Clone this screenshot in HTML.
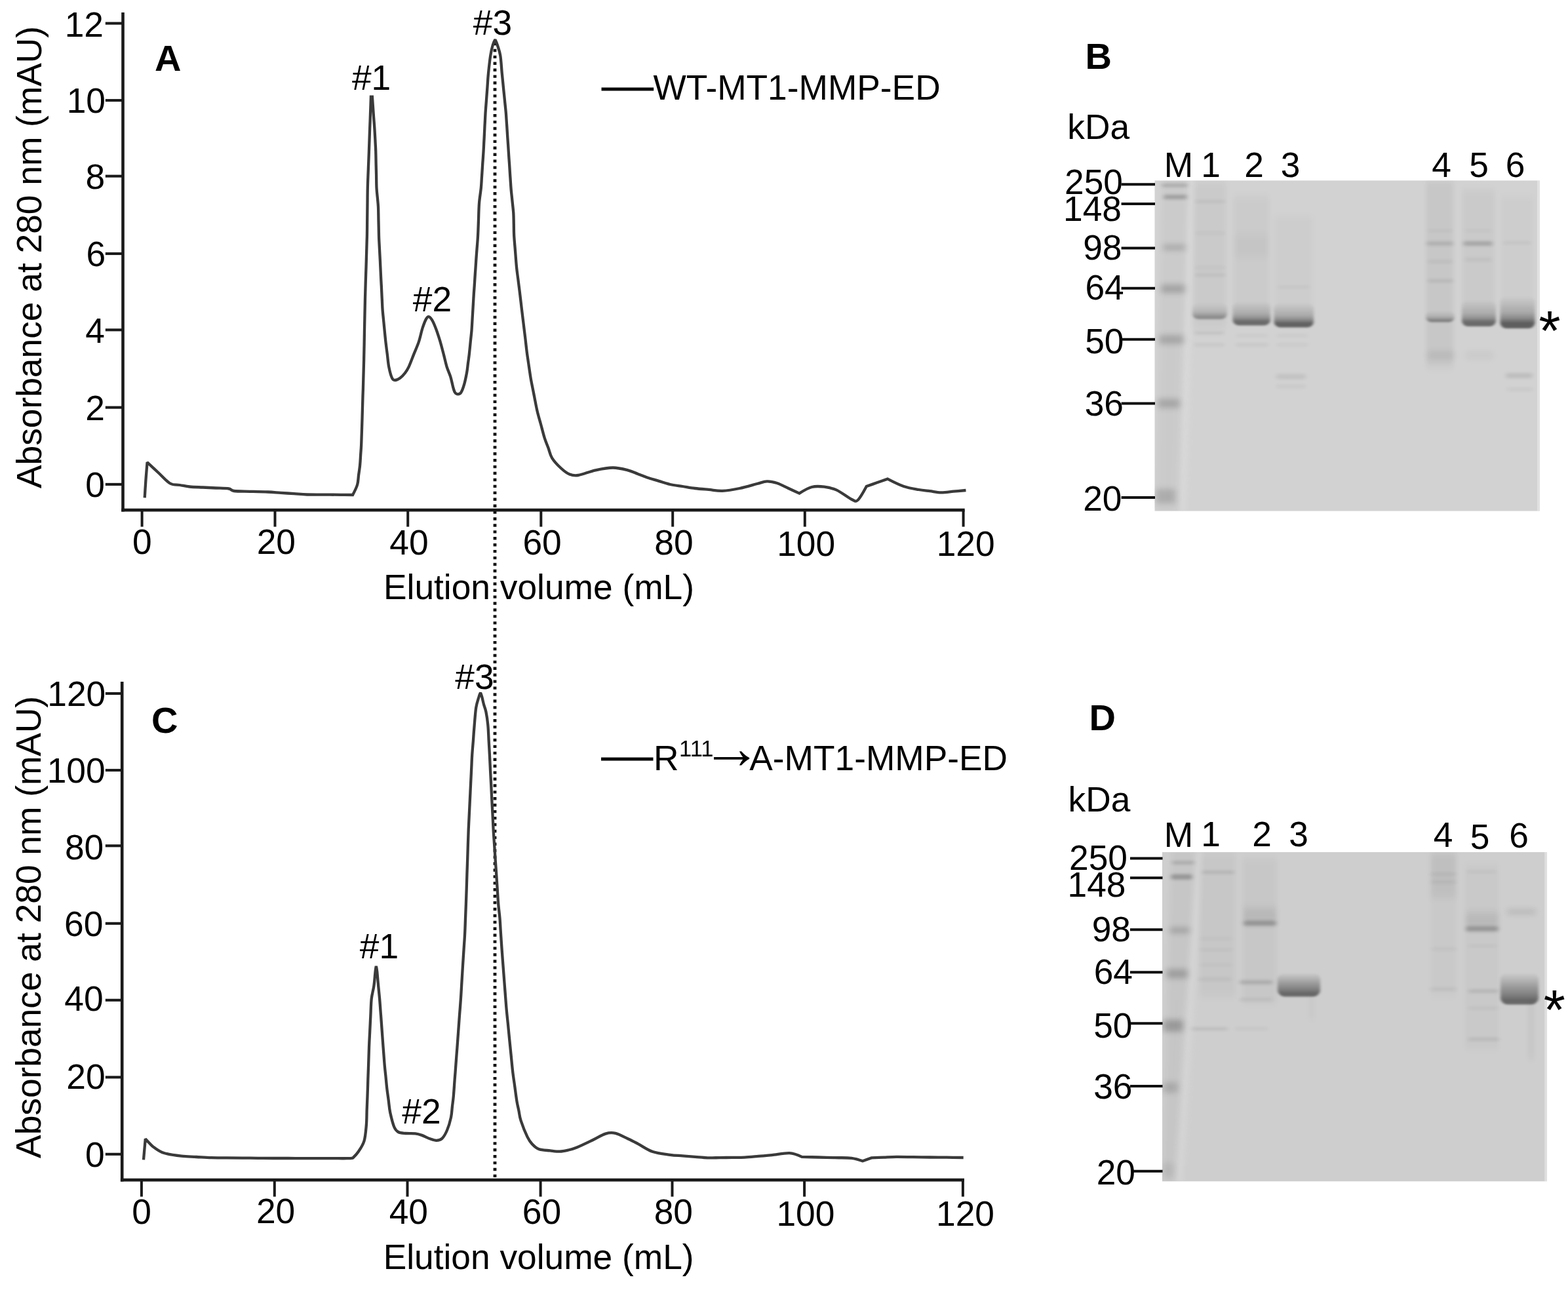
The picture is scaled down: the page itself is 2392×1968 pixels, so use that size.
<!DOCTYPE html>
<html lang="en"><head><meta charset="utf-8"><title>Size-exclusion chromatography of MT1-MMP-ED</title>
<style>html,body{margin:0;padding:0;background:#fff}body{width:2392px;height:1968px;overflow:hidden}svg{display:block}text{font-family:"Liberation Sans", "DejaVu Sans", sans-serif;fill:#000}</style>
</head><body>
<svg width="2392" height="1968" viewBox="0 0 2392 1968" role="img" aria-label="Size-exclusion chromatograms and SDS-PAGE gels of WT and R111A MT1-MMP-ED">
<rect width="2392" height="1968" fill="#fff"/>
<line x1="755" y1="64.8" x2="755" y2="1796" stroke="#111" stroke-width="4.8" stroke-dasharray="4.4 5.525"/>
<line x1="187.5" y1="19.0" x2="187.5" y2="780.4" stroke="#1a1a1a" stroke-width="4.6" />
<line x1="185.2" y1="778.1" x2="1471.7" y2="778.1" stroke="#1a1a1a" stroke-width="4.6" />
<line x1="160.8" y1="35.6" x2="187.5" y2="35.6" stroke="#1a1a1a" stroke-width="4.1" />
<text x="158.0" y="56.2" font-size="53.3" text-anchor="end">12</text>
<line x1="160.8" y1="153.1" x2="187.5" y2="153.1" stroke="#1a1a1a" stroke-width="4.1" />
<text x="161.0" y="172.1" font-size="53.3" text-anchor="end">10</text>
<line x1="160.8" y1="268.7" x2="187.5" y2="268.7" stroke="#1a1a1a" stroke-width="4.1" />
<text x="160.2" y="288.3" font-size="53.3" text-anchor="end">8</text>
<line x1="160.8" y1="387.0" x2="187.5" y2="387.0" stroke="#1a1a1a" stroke-width="4.1" />
<text x="161.2" y="406.2" font-size="53.3" text-anchor="end">6</text>
<line x1="160.8" y1="503.3" x2="187.5" y2="503.3" stroke="#1a1a1a" stroke-width="4.1" />
<text x="160.0" y="522.6" font-size="53.3" text-anchor="end">4</text>
<line x1="160.8" y1="621.6" x2="187.5" y2="621.6" stroke="#1a1a1a" stroke-width="4.1" />
<text x="159.8" y="640.6" font-size="53.3" text-anchor="end">2</text>
<line x1="160.8" y1="738.9" x2="187.5" y2="738.9" stroke="#1a1a1a" stroke-width="4.1" />
<text x="160.0" y="757.9" font-size="53.3" text-anchor="end">0</text>
<line x1="216.6" y1="778.1" x2="216.6" y2="803.6" stroke="#1a1a1a" stroke-width="4.0" />
<text x="216.9" y="845.3" font-size="53.3" text-anchor="middle">0</text>
<line x1="419.5" y1="778.1" x2="419.5" y2="803.6" stroke="#1a1a1a" stroke-width="4.0" />
<text x="421.3" y="845.3" font-size="53.3" text-anchor="middle">20</text>
<line x1="622.2" y1="778.1" x2="622.2" y2="803.6" stroke="#1a1a1a" stroke-width="4.0" />
<text x="624.0" y="845.7" font-size="53.3" text-anchor="middle">40</text>
<line x1="825.3" y1="778.1" x2="825.3" y2="803.6" stroke="#1a1a1a" stroke-width="4.0" />
<text x="827.1" y="845.7" font-size="53.3" text-anchor="middle">60</text>
<line x1="1026.2" y1="778.1" x2="1026.2" y2="803.6" stroke="#1a1a1a" stroke-width="4.0" />
<text x="1028.0" y="845.9" font-size="53.3" text-anchor="middle">80</text>
<line x1="1227.8" y1="778.1" x2="1227.8" y2="803.6" stroke="#1a1a1a" stroke-width="4.0" />
<text x="1229.6" y="848.2" font-size="53.3" text-anchor="middle">100</text>
<line x1="1469.6" y1="778.1" x2="1469.6" y2="803.6" stroke="#1a1a1a" stroke-width="4.0" />
<text x="1473.2" y="848.2" font-size="53.3" text-anchor="middle">120</text>
<text x="822.0" y="914.3" font-size="53.3" text-anchor="middle">Elution volume (mL)</text>
<text transform="translate(63,392.5) rotate(-90)" font-size="53.3" text-anchor="middle">Absorbance at 280 nm (mAU)</text>
<path d="M220.7,759.4C220.9,757.0 221.3,749.6 221.6,744.7C222.0,739.8 222.1,736.6 222.6,730.0C223.1,723.4 224.6,705.2 224.6,705.2C224.6,705.2 236.2,716.1 242.0,721.5C247.8,726.9 254.1,734.4 259.5,737.5C264.9,740.6 269.4,739.2 274.4,740.0C279.4,740.8 283.5,741.9 289.3,742.5C295.1,743.1 302.6,743.2 309.2,743.5C315.8,743.8 322.5,744.2 329.1,744.5C335.7,744.8 344.4,744.8 349.0,745.5C353.6,746.2 351.4,748.3 357.0,749.0C362.6,749.7 374.2,749.5 382.9,749.8C391.5,750.0 401.1,750.2 408.7,750.5C416.3,750.8 422.0,751.4 428.6,751.8C435.3,752.3 441.9,752.7 448.6,753.2C455.2,753.6 460.9,754.3 468.5,754.5C476.1,754.7 485.7,754.6 494.2,754.6C502.8,754.7 512.7,754.7 520.0,754.8C527.3,754.9 538.1,755.0 538.1,755.0C538.1,755.0 543.6,744.6 545.1,739.5C546.6,734.4 546.4,729.6 547.1,724.6C547.8,719.6 548.6,714.7 549.1,709.7C549.6,704.7 549.8,699.7 550.1,694.8C550.4,689.8 550.8,685.9 551.1,679.8C551.4,673.7 551.6,665.2 551.9,657.9C552.1,650.6 552.4,643.2 552.6,636.0C552.8,628.8 553.0,621.7 553.2,614.5C553.4,607.3 553.6,600.2 553.9,593.0C554.1,585.8 554.3,578.7 554.5,571.5C554.7,564.3 554.9,557.5 555.1,550.0C555.3,542.5 555.4,534.2 555.6,526.2C555.7,518.3 555.9,510.4 556.0,502.5C556.2,494.6 556.4,486.7 556.5,478.8C556.7,470.8 556.8,462.9 557.0,455.0C557.2,447.1 557.5,439.2 557.7,431.2C558.0,423.3 558.2,415.4 558.5,407.5C558.7,399.6 558.9,391.7 559.2,383.8C559.4,375.8 559.7,368.0 559.9,360.0C560.1,352.0 560.1,343.8 560.2,335.7C560.3,327.6 560.4,319.4 560.5,311.3C560.6,303.2 560.6,295.3 560.8,287.0C561.0,278.7 561.4,270.1 561.7,261.7C562.0,253.2 562.4,244.8 562.7,236.3C563.0,227.9 563.3,218.8 563.6,211.0C563.9,203.2 564.1,196.7 564.4,189.5C564.7,182.3 565.0,175.0 565.2,168.0C565.5,161.0 565.9,147.6 565.9,147.6L567.9,147.6C567.9,147.6 568.9,162.1 569.3,168.0C569.7,173.9 570.0,178.0 570.4,183.0C570.8,188.0 571.2,192.8 571.5,198.0C571.8,203.2 572.1,208.7 572.4,214.0C572.6,219.3 573.0,224.2 573.2,230.0C573.4,235.8 573.5,242.7 573.6,249.0C573.8,255.3 573.9,261.7 574.1,268.0C574.2,274.3 574.2,281.4 574.5,287.0C574.8,292.6 575.3,296.6 575.8,301.4C576.2,306.1 576.7,309.6 577.0,315.7C577.3,321.8 577.3,330.5 577.5,337.9C577.7,345.2 577.8,353.1 578.0,360.0C578.2,366.9 578.6,372.7 578.9,379.0C579.2,385.3 579.6,391.7 579.9,398.0C580.2,404.3 580.5,410.7 580.8,417.0C581.1,423.3 581.4,429.7 581.8,436.0C582.1,442.3 582.4,448.7 582.7,455.0C583.1,461.3 583.1,466.9 583.7,474.0C584.3,481.1 585.3,489.9 586.0,497.8C586.8,505.7 587.6,514.5 588.4,521.6C589.2,528.7 590.0,534.3 590.8,540.6C591.6,546.9 592.0,553.6 593.2,559.6C594.4,565.6 596.4,573.3 598.0,576.7C599.6,580.1 600.7,580.0 602.7,580.0C604.8,580.0 607.8,578.5 610.3,576.7C612.8,574.9 615.7,571.9 617.9,569.0C620.1,566.1 621.4,564.3 623.6,559.6C625.8,554.9 628.7,546.9 631.2,540.6C633.7,534.3 636.6,528.2 638.8,521.6C641.0,515.0 642.6,506.6 644.5,500.7C646.4,494.8 648.6,489.3 650.2,486.4C651.9,483.5 652.8,482.7 654.4,483.2C656.0,483.7 657.9,486.1 659.7,489.3C661.5,492.5 663.5,497.5 665.4,502.6C667.3,507.7 669.2,513.4 671.1,519.7C673.0,526.0 675.0,534.0 676.8,540.6C678.5,547.2 679.9,553.9 681.6,559.6C683.4,565.3 685.7,569.7 687.3,574.8C688.9,579.9 689.9,586.0 691.0,590.0C692.1,594.0 692.7,596.7 694.0,598.6C695.3,600.5 697.1,601.4 698.7,601.4C700.3,601.4 701.8,601.1 703.4,598.6C705.0,596.1 706.8,591.1 708.2,586.2C709.6,581.3 711.0,574.2 712.0,569.0C713.0,563.8 713.3,559.5 713.9,554.8C714.5,550.1 715.2,546.1 715.8,540.6C716.4,535.1 717.1,527.9 717.7,521.6C718.3,515.3 719.1,509.7 719.6,502.6C720.1,495.5 720.5,486.7 721.0,478.8C721.5,470.9 722.0,462.1 722.4,455.0C722.8,447.9 723.2,442.3 723.7,436.0C724.1,429.7 724.5,423.3 724.9,417.0C725.4,410.7 725.8,404.3 726.2,398.0C726.6,391.7 727.1,385.3 727.6,379.0C728.1,372.7 728.6,367.3 729.0,360.0C729.4,352.7 729.7,343.3 730.0,335.0C730.3,326.7 730.4,318.0 731.0,310.0C731.6,302.0 733.1,294.0 733.8,287.0C734.5,280.0 734.6,274.3 735.1,268.0C735.5,261.7 735.9,255.3 736.3,249.0C736.8,242.7 737.2,236.3 737.6,230.0C738.0,223.7 738.2,217.3 738.6,211.0C738.9,204.7 739.2,198.3 739.5,192.0C739.9,185.7 740.1,179.6 740.5,173.0C740.9,166.4 741.5,159.4 742.0,152.7C742.5,145.9 743.0,139.1 743.5,132.3C744.0,125.6 744.2,119.9 745.0,112.0C745.8,104.1 747.1,92.2 748.2,85.0C749.3,77.8 750.6,72.6 751.8,68.5C753.0,64.4 755.4,60.5 755.4,60.5C755.4,60.5 757.4,64.4 758.7,68.5C760.0,72.6 762.1,77.8 763.3,85.0C764.5,92.2 765.0,104.1 765.8,112.0C766.6,119.9 767.2,125.6 767.8,132.3C768.5,139.1 769.2,145.9 769.9,152.7C770.5,159.4 771.4,166.4 771.9,173.0C772.4,179.6 772.7,185.7 773.2,192.0C773.6,198.3 774.0,204.7 774.4,211.0C774.9,217.3 775.3,223.7 775.7,230.0C776.1,236.3 776.5,242.7 777.0,249.0C777.4,255.3 777.8,261.7 778.2,268.0C778.7,274.3 779.0,280.7 779.5,287.0C780.0,293.3 780.8,299.7 781.4,306.0C782.0,312.3 782.9,318.9 783.3,325.0C783.7,331.1 783.6,336.7 783.8,342.5C783.9,348.3 783.8,353.1 784.2,360.0C784.6,366.9 785.5,375.8 786.1,383.8C786.7,391.7 787.3,400.4 788.0,407.5C788.7,414.6 789.6,420.2 790.4,426.6C791.2,432.9 791.9,438.5 792.8,445.6C793.7,452.7 794.7,461.4 795.6,469.3C796.6,477.2 797.5,485.1 798.5,493.0C799.5,500.9 800.4,508.9 801.4,516.8C802.3,524.7 803.2,533.5 804.2,540.6C805.2,547.7 806.1,553.3 807.0,559.6C808.0,565.9 808.6,571.4 809.9,578.6C811.2,585.8 813.1,594.6 814.6,602.5C816.2,610.5 817.7,619.0 819.4,626.5C821.1,634.0 823.2,640.5 825.1,647.5C827.0,654.4 828.9,662.4 830.8,668.4C832.7,674.4 834.6,678.5 836.5,683.6C838.4,688.7 839.0,693.7 842.2,698.8C845.4,703.9 851.1,709.9 855.5,714.0C859.9,718.1 864.4,721.7 868.8,723.5C873.2,725.3 875.5,726.0 882.1,725.0C888.7,724.0 899.7,719.2 908.5,717.3C917.3,715.4 926.8,713.5 935.0,713.5C943.2,713.5 951.5,715.7 957.8,717.3C964.1,718.9 967.9,721.1 972.9,723.0C977.9,724.9 982.6,726.9 988.0,728.7C993.4,730.5 999.4,732.1 1005.1,733.9C1010.9,735.6 1016.3,737.6 1022.3,739.0C1028.3,740.4 1034.9,741.0 1041.2,742.0C1047.6,743.0 1053.6,744.2 1060.2,745.0C1066.8,745.8 1074.1,746.3 1081.1,746.9C1088.1,747.5 1094.1,749.1 1102.0,748.8C1109.9,748.5 1119.6,746.8 1128.4,745.0C1137.2,743.2 1148.1,739.8 1155.0,738.0C1161.9,736.2 1165.0,734.6 1170.0,734.4C1175.0,734.2 1179.9,735.3 1185.3,737.0C1190.7,738.7 1196.7,742.2 1202.3,744.8C1208.0,747.4 1219.4,752.6 1219.4,752.6C1219.4,752.6 1232.1,744.6 1238.4,743.0C1244.7,741.4 1251.0,741.9 1257.3,742.7C1263.6,743.5 1269.3,744.4 1276.3,747.6C1283.2,750.8 1293.6,759.1 1299.0,761.7C1304.4,764.3 1304.7,766.3 1308.5,763.0C1312.3,759.7 1321.8,742.0 1321.8,742.0C1321.8,742.0 1332.5,738.2 1337.9,736.3C1343.3,734.4 1354.0,730.6 1354.0,730.6C1354.0,730.6 1370.8,739.3 1378.7,742.0C1386.6,744.7 1394.8,745.8 1401.4,747.0C1408.0,748.2 1412.8,748.5 1418.5,749.2C1424.1,749.9 1429.5,751.3 1435.5,751.4C1441.5,751.5 1448.2,750.3 1454.5,749.7C1460.8,749.1 1470.3,748.3 1473.5,748.0" fill="none" stroke="#3a3a3a" stroke-width="4.3" stroke-linejoin="miter" stroke-miterlimit="2" stroke-linecap="butt"/>
<text x="236.0" y="108.0" font-size="56.0" text-anchor="start" font-weight="bold">A</text>
<text x="566.6" y="137.0" font-size="53.3" text-anchor="middle">#1</text>
<text x="659.5" y="475.3" font-size="53.3" text-anchor="middle">#2</text>
<text x="751.5" y="53.3" font-size="53.3" text-anchor="middle">#3</text>
<line x1="186.2" y1="1040.0" x2="186.2" y2="1802.4" stroke="#1a1a1a" stroke-width="4.6" />
<line x1="183.9" y1="1800.1" x2="1471.0" y2="1800.1" stroke="#1a1a1a" stroke-width="4.6" />
<line x1="160.8" y1="1058.0" x2="186.2" y2="1058.0" stroke="#1a1a1a" stroke-width="4.1" />
<text x="161.2" y="1076.8" font-size="53.3" text-anchor="end">120</text>
<line x1="160.8" y1="1175.0" x2="186.2" y2="1175.0" stroke="#1a1a1a" stroke-width="4.1" />
<text x="160.6" y="1194.3" font-size="53.3" text-anchor="end">100</text>
<line x1="160.8" y1="1290.3" x2="186.2" y2="1290.3" stroke="#1a1a1a" stroke-width="4.1" />
<text x="158.2" y="1311.1" font-size="53.3" text-anchor="end">80</text>
<line x1="160.8" y1="1408.8" x2="186.2" y2="1408.8" stroke="#1a1a1a" stroke-width="4.1" />
<text x="157.4" y="1428.1" font-size="53.3" text-anchor="end">60</text>
<line x1="160.8" y1="1525.8" x2="186.2" y2="1525.8" stroke="#1a1a1a" stroke-width="4.1" />
<text x="157.6" y="1542.4" font-size="53.3" text-anchor="end">40</text>
<line x1="160.8" y1="1643.4" x2="186.2" y2="1643.4" stroke="#1a1a1a" stroke-width="4.1" />
<text x="160.6" y="1661.2" font-size="53.3" text-anchor="end">20</text>
<line x1="160.8" y1="1760.8" x2="186.2" y2="1760.8" stroke="#1a1a1a" stroke-width="4.1" />
<text x="159.6" y="1780.1" font-size="53.3" text-anchor="end">0</text>
<line x1="215.9" y1="1800.1" x2="215.9" y2="1825.6" stroke="#1a1a1a" stroke-width="4.0" />
<text x="216.2" y="1867.2" font-size="53.3" text-anchor="middle">0</text>
<line x1="418.8" y1="1800.1" x2="418.8" y2="1825.6" stroke="#1a1a1a" stroke-width="4.0" />
<text x="420.6" y="1866.2" font-size="53.3" text-anchor="middle">20</text>
<line x1="621.5" y1="1800.1" x2="621.5" y2="1825.6" stroke="#1a1a1a" stroke-width="4.0" />
<text x="623.3" y="1866.7" font-size="53.3" text-anchor="middle">40</text>
<line x1="824.6" y1="1800.1" x2="824.6" y2="1825.6" stroke="#1a1a1a" stroke-width="4.0" />
<text x="826.4" y="1866.7" font-size="53.3" text-anchor="middle">60</text>
<line x1="1025.5" y1="1800.1" x2="1025.5" y2="1825.6" stroke="#1a1a1a" stroke-width="4.0" />
<text x="1027.3" y="1867.2" font-size="53.3" text-anchor="middle">80</text>
<line x1="1227.1" y1="1800.1" x2="1227.1" y2="1825.6" stroke="#1a1a1a" stroke-width="4.0" />
<text x="1228.9" y="1869.7" font-size="53.3" text-anchor="middle">100</text>
<line x1="1468.9" y1="1800.1" x2="1468.9" y2="1825.6" stroke="#1a1a1a" stroke-width="4.0" />
<text x="1472.5" y="1870.2" font-size="53.3" text-anchor="middle">120</text>
<text x="821.6" y="1936.3" font-size="53.3" text-anchor="middle">Elution volume (mL)</text>
<text transform="translate(62.4,1414.4) rotate(-90)" font-size="53.3" text-anchor="middle">Absorbance at 280 nm (mAU)</text>
<path d="M219.0,1769.4C219.2,1766.5 220.0,1757.3 220.5,1752.0C221.0,1746.7 221.8,1737.5 221.8,1737.5C221.8,1737.5 225.8,1741.8 228.0,1744.0C230.2,1746.2 231.3,1748.0 235.0,1750.5C238.7,1753.0 243.2,1756.8 250.2,1759.0C257.2,1761.2 268.6,1762.7 276.8,1763.7C285.0,1764.7 292.0,1764.5 299.6,1765.0C307.1,1765.4 314.6,1766.0 322.3,1766.2C330.0,1766.4 338.1,1766.3 346.0,1766.4C353.9,1766.5 361.8,1766.5 369.6,1766.6C377.5,1766.7 385.4,1766.7 393.3,1766.8C401.2,1766.9 409.3,1767.0 417.0,1767.0C424.7,1767.0 432.1,1767.0 439.6,1767.0C447.1,1767.1 454.7,1767.1 462.2,1767.1C469.7,1767.1 477.3,1767.1 484.8,1767.1C492.3,1767.1 499.9,1767.1 507.4,1767.2C514.9,1767.2 524.9,1767.3 530.0,1767.2C535.1,1767.1 538.2,1766.6 538.2,1766.6C538.2,1766.6 544.0,1761.0 546.9,1756.7C549.8,1752.4 553.5,1747.2 555.5,1740.6C557.5,1734.0 558.1,1724.7 558.8,1717.0C559.5,1709.3 559.4,1702.1 559.6,1694.7C559.9,1687.3 560.2,1680.2 560.5,1672.4C560.8,1664.6 561.1,1655.9 561.3,1647.6C561.6,1639.3 561.9,1631.1 562.2,1622.8C562.4,1614.5 562.7,1606.2 563.0,1598.0C563.3,1589.8 563.8,1581.5 564.2,1573.3C564.6,1565.1 565.0,1556.8 565.4,1548.6C565.8,1540.3 565.9,1531.2 566.7,1523.8C567.5,1516.4 569.4,1511.0 570.4,1504.0C571.4,1497.0 572.0,1487.0 572.6,1482.0C573.2,1477.0 573.8,1474.0 573.8,1474.0C573.8,1474.0 574.7,1477.7 575.2,1482.0C575.7,1486.3 576.1,1493.0 576.8,1500.0C577.4,1507.0 578.4,1515.7 579.1,1523.8C579.8,1531.9 580.3,1540.3 581.0,1548.6C581.6,1556.9 582.2,1565.1 582.8,1573.4C583.4,1581.7 584.0,1589.9 584.6,1598.2C585.3,1606.4 585.9,1615.7 586.5,1622.9C587.1,1630.1 587.7,1635.3 588.4,1641.5C589.0,1647.6 589.5,1653.8 590.2,1660.0C590.9,1666.2 591.9,1672.4 592.7,1678.6C593.5,1684.8 593.8,1690.4 595.2,1697.2C596.7,1704.0 599.3,1714.5 601.4,1719.5C603.5,1724.5 604.7,1725.4 607.6,1727.0C610.5,1728.6 614.4,1728.6 618.7,1729.0C623.0,1729.4 629.5,1728.9 633.6,1729.4C637.7,1729.9 639.8,1730.6 643.5,1731.9C647.2,1733.2 652.2,1736.0 655.9,1737.3C659.6,1738.6 662.7,1739.9 665.8,1739.8C668.9,1739.7 671.7,1739.3 674.4,1736.8C677.1,1734.2 679.6,1729.9 681.9,1724.5C684.2,1719.1 686.7,1710.6 688.0,1704.6C689.3,1698.6 689.3,1693.9 689.9,1688.5C690.5,1683.1 691.2,1679.2 691.8,1672.4C692.4,1665.6 693.0,1655.9 693.6,1647.7C694.3,1639.4 694.9,1631.2 695.5,1622.9C696.1,1614.7 696.7,1606.4 697.4,1598.2C698.0,1589.9 698.6,1581.7 699.2,1573.4C699.8,1565.1 700.4,1556.9 701.0,1548.6C701.7,1540.3 702.3,1532.1 702.9,1523.8C703.5,1515.5 703.9,1507.3 704.4,1499.0C704.9,1490.8 705.4,1482.5 705.9,1474.3C706.4,1466.0 707.0,1457.8 707.5,1449.5C708.0,1441.3 708.7,1432.7 709.1,1424.8C709.5,1416.9 709.7,1409.5 710.0,1401.9C710.3,1394.3 710.6,1386.6 710.9,1379.0C711.2,1371.4 711.4,1363.9 711.7,1356.3C711.9,1348.7 712.2,1341.1 712.4,1333.6C712.7,1326.0 712.9,1318.4 713.2,1310.8C713.4,1303.3 713.7,1295.7 713.9,1288.1C714.2,1280.5 714.4,1273.0 714.7,1265.4C715.0,1257.8 715.4,1250.2 715.8,1242.7C716.2,1235.1 716.5,1227.5 716.9,1219.9C717.3,1212.3 717.6,1204.8 718.0,1197.2C718.4,1189.6 718.7,1182.0 719.1,1174.4C719.5,1166.9 719.7,1159.3 720.2,1151.7C720.7,1144.1 721.4,1136.5 722.0,1128.8C722.5,1121.2 723.0,1114.2 723.7,1106.0C724.4,1097.8 725.1,1086.8 726.2,1079.6C727.4,1072.4 729.5,1066.8 730.6,1063.0C731.7,1059.2 733.0,1056.8 733.0,1056.8C733.0,1056.8 734.4,1060.1 735.2,1063.0C736.0,1065.9 736.9,1070.5 737.9,1074.3C738.9,1078.1 740.3,1080.7 741.4,1086.0C742.5,1091.3 743.6,1098.9 744.3,1106.0C745.0,1113.1 745.2,1121.2 745.6,1128.8C746.0,1136.5 746.5,1144.1 746.9,1151.7C747.3,1159.3 747.7,1166.9 748.0,1174.4C748.4,1182.0 748.8,1189.6 749.2,1197.2C749.6,1204.8 749.9,1212.3 750.3,1219.9C750.7,1227.5 751.1,1235.1 751.5,1242.7C751.8,1250.2 752.2,1257.8 752.6,1265.4C753.0,1273.0 753.6,1280.5 754.1,1288.1C754.6,1295.7 755.1,1303.3 755.6,1310.8C756.1,1318.4 756.7,1326.0 757.2,1333.6C757.7,1341.1 758.2,1348.7 758.7,1356.3C759.2,1363.9 759.6,1371.7 760.2,1379.0C760.8,1386.3 761.8,1393.4 762.4,1400.0C763.0,1406.6 763.2,1412.3 763.6,1418.5C764.0,1424.7 764.3,1429.8 764.8,1437.0C765.3,1444.2 766.0,1453.6 766.6,1461.8C767.3,1470.1 767.9,1478.4 768.5,1486.7C769.1,1495.0 769.8,1503.2 770.4,1511.5C771.0,1519.7 771.6,1527.9 772.3,1536.2C773.0,1544.5 773.9,1552.7 774.8,1561.0C775.6,1569.3 776.4,1577.5 777.2,1585.8C778.0,1594.1 778.9,1602.3 779.7,1610.5C780.5,1618.8 781.3,1627.5 782.2,1635.3C783.1,1643.1 784.3,1650.2 785.3,1657.6C786.3,1665.0 787.4,1673.7 788.4,1679.9C789.4,1686.1 790.5,1689.8 791.5,1694.8C792.5,1699.7 792.4,1703.0 794.6,1709.6C796.8,1716.2 801.6,1728.4 804.5,1734.4C807.4,1740.4 809.0,1742.4 811.9,1745.5C814.8,1748.6 817.3,1751.3 821.8,1753.0C826.3,1754.7 833.7,1754.8 839.1,1755.4C844.5,1756.0 849.5,1756.8 854.0,1756.7C858.5,1756.6 862.1,1755.7 866.4,1754.7C870.7,1753.7 873.6,1753.1 880.0,1750.5C886.4,1747.9 897.4,1742.5 904.7,1739.0C912.0,1735.5 918.0,1731.3 923.7,1729.6C929.4,1727.9 933.2,1727.6 938.9,1728.9C944.6,1730.2 952.1,1734.6 957.8,1737.2C963.5,1739.8 966.7,1741.5 973.0,1744.8C979.3,1748.1 987.5,1754.2 995.7,1757.0C1003.9,1759.8 1014.7,1760.7 1022.3,1761.8C1029.9,1762.9 1034.9,1762.8 1041.3,1763.3C1047.6,1763.8 1053.9,1764.4 1060.2,1764.9C1066.6,1765.4 1072.9,1766.2 1079.2,1766.4C1085.5,1766.6 1091.8,1766.2 1098.1,1766.1C1104.4,1766.0 1110.8,1766.0 1117.1,1765.9C1123.4,1765.8 1129.4,1765.9 1136.0,1765.6C1142.6,1765.3 1149.9,1764.5 1156.8,1763.9C1163.8,1763.3 1169.8,1763.0 1177.7,1762.2C1185.6,1761.4 1196.7,1758.8 1204.3,1759.2C1211.9,1759.7 1223.2,1764.9 1223.2,1764.9C1223.2,1764.9 1240.0,1765.3 1248.5,1765.5C1256.9,1765.7 1265.3,1766.0 1273.7,1766.2C1282.2,1766.4 1292.0,1765.9 1299.0,1766.8C1306.0,1767.7 1316.0,1771.3 1316.0,1771.3L1329.4,1766.4C1329.4,1766.4 1342.0,1765.9 1348.3,1765.7C1354.7,1765.4 1359.9,1765.0 1367.3,1764.9C1374.7,1764.8 1384.4,1765.1 1392.9,1765.2C1401.4,1765.3 1410.0,1765.4 1418.5,1765.5C1427.0,1765.5 1435.6,1765.6 1444.1,1765.7C1452.6,1765.8 1465.4,1766.0 1469.7,1766.0" fill="none" stroke="#3a3a3a" stroke-width="4.3" stroke-linejoin="miter" stroke-miterlimit="2" stroke-linecap="butt"/>
<text x="231.0" y="1118.0" font-size="56.0" text-anchor="start" font-weight="bold">C</text>
<text x="578.5" y="1462.3" font-size="53.3" text-anchor="middle">#1</text>
<text x="643.0" y="1714.0" font-size="53.3" text-anchor="middle">#2</text>
<text x="724.0" y="1051.0" font-size="53.3" text-anchor="middle">#3</text>
<line x1="917.5" y1="135.9" x2="997.2" y2="135.9" stroke="#0a0a0a" stroke-width="5.0" />
<text x="996.5" y="152.3" font-size="53.3" text-anchor="start">WT-MT1-MMP-ED</text>
<line x1="917.0" y1="1158.0" x2="996.5" y2="1158.0" stroke="#0a0a0a" stroke-width="5.0" />
<text x="997" y="1175" font-size="53.3">R<tspan font-size="34.5" dy="-21" dx="0.5">111</tspan><tspan x="1070.2" y="1171.5" font-size="91.5">→</tspan><tspan x="1143.3" y="1175" font-size="53.3">A-MT1-MMP-ED</tspan></text>
<defs><filter id="bs" x="-20%" y="-200%" width="140%" height="500%"><feGaussianBlur stdDeviation="3 2.2"/></filter><filter id="bm" x="-30%" y="-200%" width="160%" height="500%"><feGaussianBlur stdDeviation="5 4.5"/></filter><filter id="bl" x="-30%" y="-30%" width="160%" height="160%"><feGaussianBlur stdDeviation="3.5 6"/></filter><filter id="bx" x="-30%" y="-10%" width="160%" height="120%"><feGaussianBlur stdDeviation="5 2"/></filter><filter id="bg" x="-20%" y="-50%" width="140%" height="200%"><feGaussianBlur stdDeviation="2.2 1.6"/></filter><linearGradient id="mg" x1="0" y1="0" x2="0" y2="1"><stop offset="0" stop-color="#000" stop-opacity="0"/><stop offset="0.25" stop-color="#000" stop-opacity="0.09"/><stop offset="0.5" stop-color="#000" stop-opacity="0.19"/><stop offset="0.68" stop-color="#000" stop-opacity="0.36"/><stop offset="0.84" stop-color="#000" stop-opacity="0.60"/><stop offset="1" stop-color="#000" stop-opacity="0.58"/></linearGradient><linearGradient id="mg2" x1="0" y1="0" x2="0" y2="1"><stop offset="0" stop-color="#000" stop-opacity="0"/><stop offset="0.2" stop-color="#000" stop-opacity="0.13"/><stop offset="0.45" stop-color="#000" stop-opacity="0.30"/><stop offset="0.7" stop-color="#000" stop-opacity="0.46"/><stop offset="0.86" stop-color="#000" stop-opacity="0.60"/><stop offset="1" stop-color="#000" stop-opacity="0.58"/></linearGradient></defs>
<clipPath id="clipb"><rect x="1761.3" y="275.2" width="587.7" height="504.6"/></clipPath>
<g clip-path="url(#clipb)">
<rect x="1761.3" y="275.2" width="587.7" height="504.6" fill="#d2d2d2"/>
<rect x="2345.0" y="275.2" width="4" height="504.6" fill="#fff" opacity="0.35"/>
<polygon points="1773,275 1811,275 1797,780 1764,780" fill="#000" opacity="0.03" filter="url(#bx)"/>
<polygon points="1814,275 1823,275 1809,780 1800,780" fill="#fff" opacity="0.16" filter="url(#bx)"/>
<g filter="url(#bl)" fill="#000">
<rect x="1821" y="278" width="49" height="222" opacity="0.035"/>
<rect x="1882" y="300" width="54" height="180" opacity="0.03"/>
<rect x="1944" y="330" width="58" height="150" opacity="0.02"/>
<rect x="2176" y="276" width="41" height="284" opacity="0.05"/>
<rect x="2231" y="290" width="49" height="190" opacity="0.035"/>
<rect x="2290" y="300" width="49" height="180" opacity="0.02"/>
<rect x="1884" y="358" width="50" height="34" opacity="0.03"/>
</g>
<g filter="url(#bg)">
<rect x="1819" y="462" width="53" height="25" rx="9" fill="url(#mg)" opacity="0.500"/>
<rect x="1880.5" y="460" width="57.5" height="36.5" rx="9" fill="url(#mg)" opacity="0.833"/>
<rect x="1943.5" y="462" width="60.5" height="37.5" rx="9" fill="url(#mg)" opacity="0.900"/>
<rect x="2175" y="474" width="44" height="17.5" rx="9" fill="url(#mg)" opacity="0.600"/>
<rect x="2230" y="458" width="52" height="40" rx="9" fill="url(#mg)" opacity="0.833"/>
<rect x="2288.5" y="452" width="53.0" height="49" rx="9" fill="url(#mg)" opacity="0.933"/>
</g>
<g filter="url(#bs)" fill="#000">
<rect x="1772" y="280.2" width="40" height="5" rx="2.5" opacity="0.16"/>
<rect x="1775" y="297.0" width="36" height="7" rx="3.5" opacity="0.208"/>
<rect x="1823" y="305.5" width="46" height="4" rx="2.0" opacity="0.058"/>
<rect x="1823" y="353.8" width="46" height="4" rx="2.0" opacity="0.036"/>
<rect x="1823" y="406.6" width="46" height="4" rx="2.0" opacity="0.036"/>
<rect x="1823" y="417.5" width="46" height="4" rx="2.0" opacity="0.065"/>
<rect x="1822" y="505.5" width="45" height="5" rx="2.5" opacity="0.072"/>
<rect x="1822" y="523.5" width="45" height="5" rx="2.5" opacity="0.05"/>
<rect x="1886" y="523.5" width="48" height="5" rx="2.5" opacity="0.05"/>
<rect x="1886" y="510.0" width="48" height="4" rx="2.0" opacity="0.036"/>
<rect x="1950" y="436.0" width="48" height="4" rx="2.0" opacity="0.036"/>
<rect x="1947" y="570.5" width="45" height="8" rx="4.0" opacity="0.072"/>
<rect x="1947" y="587.0" width="45" height="5" rx="2.5" opacity="0.043"/>
<rect x="1948" y="523.5" width="47" height="5" rx="2.5" opacity="0.036"/>
<rect x="1948" y="510.0" width="47" height="4" rx="2.0" opacity="0.036"/>
<rect x="2176" y="368.5" width="41" height="6" rx="3.0" opacity="0.122"/>
<rect x="2178" y="396.5" width="38" height="5" rx="2.5" opacity="0.05"/>
<rect x="2178" y="426.0" width="39" height="5" rx="2.5" opacity="0.079"/>
<rect x="2178" y="350.0" width="38" height="4" rx="2.0" opacity="0.036"/>
<rect x="2232" y="368.0" width="45" height="7" rx="3.5" opacity="0.173"/>
<rect x="2234" y="393.0" width="42" height="6" rx="3.0" opacity="0.043"/>
<rect x="2234" y="350.0" width="42" height="4" rx="2.0" opacity="0.029"/>
<rect x="2293" y="368.5" width="42" height="4" rx="2.0" opacity="0.05"/>
<rect x="2297" y="569.0" width="41" height="8" rx="4.0" opacity="0.094"/>
<rect x="2299" y="591.5" width="39" height="5" rx="2.5" opacity="0.043"/>
</g>
<g filter="url(#bm)" fill="#000">
<rect x="1774" y="373.5" width="35" height="8" rx="4.0" opacity="0.176"/>
<rect x="1771" y="434.0" width="37" height="13" rx="4.0" opacity="0.192"/>
<rect x="1768" y="511.0" width="38" height="14" rx="4.0" opacity="0.176"/>
<rect x="1766" y="608.6" width="34" height="14" rx="4.0" opacity="0.176"/>
<rect x="1763" y="746.0" width="30" height="22" rx="4.0" opacity="0.144"/>
<rect x="2178" y="535.5" width="40" height="13" rx="4.0" opacity="0.065"/>
<rect x="2236" y="536.0" width="42" height="12" rx="4.0" opacity="0.036"/>
</g>
</g>
<clipPath id="clipd"><rect x="1773.0" y="1300.0" width="587.2" height="502.5"/></clipPath>
<g clip-path="url(#clipd)">
<rect x="1773.0" y="1300.0" width="587.2" height="502.5" fill="#cecece"/>
<rect x="2356.2" y="1300.0" width="4" height="502.5" fill="#fff" opacity="0.35"/>
<polygon points="1787,1300 1823,1300 1792,1803 1774,1803" fill="#000" opacity="0.035" filter="url(#bx)"/>
<polygon points="1826,1300 1835,1300 1804,1803 1795,1803" fill="#fff" opacity="0.16" filter="url(#bx)"/>
<g filter="url(#bl)" fill="#000">
<rect x="1831" y="1302" width="53" height="218" opacity="0.03"/>
<rect x="1896" y="1310" width="51" height="220" opacity="0.03"/>
<rect x="2183" y="1301" width="38" height="69" opacity="0.07"/>
<rect x="2183" y="1370" width="38" height="150" opacity="0.02"/>
<rect x="2236" y="1320" width="49" height="280" opacity="0.025"/>
<rect x="1897" y="1385" width="50" height="24" opacity="0.08"/>
<rect x="2236" y="1392" width="50" height="25" opacity="0.08"/>
<rect x="2333" y="1528" width="5" height="87" opacity="0.06"/>
<rect x="1999" y="1518" width="4" height="37" opacity="0.04"/>
</g>
<g filter="url(#bg)">
<rect x="1949" y="1484" width="65" height="36.5" rx="11" fill="url(#mg2)" opacity="0.833"/>
<rect x="2289" y="1484" width="58" height="48.5" rx="11" fill="url(#mg2)" opacity="0.833"/>
</g>
<g filter="url(#bs)" fill="#000">
<rect x="1788" y="1313.5" width="34" height="5" rx="2.5" opacity="0.144"/>
<rect x="1786" y="1333.7" width="33" height="8" rx="4.0" opacity="0.24"/>
<rect x="1834" y="1328.7" width="49" height="4" rx="2.0" opacity="0.115"/>
<rect x="1830" y="1447.0" width="50" height="4" rx="2.0" opacity="0.036"/>
<rect x="1828" y="1492.0" width="50" height="4" rx="2.0" opacity="0.058"/>
<rect x="1817" y="1567.5" width="56" height="4" rx="2.0" opacity="0.094"/>
<rect x="1830" y="1470.0" width="50" height="4" rx="2.0" opacity="0.029"/>
<rect x="1830" y="1430.0" width="50" height="4" rx="2.0" opacity="0.029"/>
<rect x="1897" y="1404.5" width="50" height="8" rx="4.0" opacity="0.216"/>
<rect x="1891" y="1495.6" width="50" height="6" rx="3.0" opacity="0.144"/>
<rect x="1891" y="1522.5" width="50" height="5" rx="2.5" opacity="0.058"/>
<rect x="1884" y="1567.5" width="50" height="4" rx="2.0" opacity="0.043"/>
<rect x="2183" y="1331.2" width="38" height="5" rx="2.5" opacity="0.05"/>
<rect x="2183" y="1343.0" width="38" height="5" rx="2.5" opacity="0.05"/>
<rect x="2184" y="1445.3" width="38" height="5" rx="2.5" opacity="0.036"/>
<rect x="2182" y="1506.5" width="40" height="5" rx="2.5" opacity="0.05"/>
<rect x="2236" y="1413.0" width="50" height="8" rx="4.0" opacity="0.216"/>
<rect x="2238" y="1328.0" width="44" height="4" rx="2.0" opacity="0.036"/>
<rect x="2240" y="1441.0" width="44" height="4" rx="2.0" opacity="0.036"/>
<rect x="2240" y="1509.5" width="46" height="5" rx="2.5" opacity="0.101"/>
<rect x="2240" y="1536.0" width="46" height="4" rx="2.0" opacity="0.043"/>
<rect x="2240" y="1583.1" width="47" height="5" rx="2.5" opacity="0.079"/>
</g>
<g filter="url(#bm)" fill="#000">
<rect x="1784" y="1415.3" width="31" height="8" rx="4.0" opacity="0.2"/>
<rect x="1779" y="1478.4" width="33" height="14" rx="4.0" opacity="0.2"/>
<rect x="1774" y="1555.7" width="31" height="18" rx="4.0" opacity="0.224"/>
<rect x="1774" y="1651.0" width="23" height="16" rx="4.0" opacity="0.144"/>
<rect x="1773" y="1774.0" width="17" height="22" rx="4.0" opacity="0.072"/>
<rect x="2299" y="1387.0" width="44" height="8" rx="4.0" opacity="0.101"/>
</g>
</g>
<text x="1655.5" y="105.0" font-size="56.0" text-anchor="start" font-weight="bold">B</text>
<text x="1661.5" y="1113.5" font-size="56.0" text-anchor="start" font-weight="bold">D</text>
<text x="1628.3" y="212.0" font-size="53.3" text-anchor="start">kDa</text>
<text x="1629.5" y="1238.0" font-size="53.3" text-anchor="start">kDa</text>
<text x="1798.0" y="269.6" font-size="53.3" text-anchor="middle">M</text>
<text x="1847.2" y="269.6" font-size="53.3" text-anchor="middle">1</text>
<text x="1913.0" y="269.6" font-size="53.3" text-anchor="middle">2</text>
<text x="1968.5" y="269.6" font-size="53.3" text-anchor="middle">3</text>
<text x="2199.0" y="269.6" font-size="53.3" text-anchor="middle">4</text>
<text x="2256.0" y="269.6" font-size="53.3" text-anchor="middle">5</text>
<text x="2311.5" y="269.6" font-size="53.3" text-anchor="middle">6</text>
<text x="1798.0" y="1292.0" font-size="53.3" text-anchor="middle">M</text>
<text x="1847.0" y="1290.5" font-size="53.3" text-anchor="middle">1</text>
<text x="1925.0" y="1290.5" font-size="53.3" text-anchor="middle">2</text>
<text x="1981.0" y="1290.5" font-size="53.3" text-anchor="middle">3</text>
<text x="2201.5" y="1292.0" font-size="53.3" text-anchor="middle">4</text>
<text x="2257.5" y="1295.0" font-size="53.3" text-anchor="middle">5</text>
<text x="2317.0" y="1292.5" font-size="53.3" text-anchor="middle">6</text>
<text x="1713.0" y="296.0" font-size="53.3" text-anchor="end">250</text>
<line x1="1710.6" y1="281.3" x2="1762.0" y2="281.3" stroke="#0c0c0c" stroke-width="4" />
<text x="1711.0" y="336.5" font-size="53.3" text-anchor="end">148</text>
<line x1="1710.6" y1="311.0" x2="1762.0" y2="311.0" stroke="#0c0c0c" stroke-width="4" />
<text x="1711.5" y="395.7" font-size="53.3" text-anchor="end">98</text>
<line x1="1710.6" y1="378.4" x2="1762.0" y2="378.4" stroke="#0c0c0c" stroke-width="4" />
<text x="1714.7" y="457.2" font-size="53.3" text-anchor="end">64</text>
<line x1="1710.6" y1="439.8" x2="1762.0" y2="439.8" stroke="#0c0c0c" stroke-width="4" />
<text x="1714.5" y="538.5" font-size="53.3" text-anchor="end">50</text>
<line x1="1710.6" y1="517.7" x2="1762.0" y2="517.7" stroke="#0c0c0c" stroke-width="4" />
<text x="1714.0" y="633.5" font-size="53.3" text-anchor="end">36</text>
<line x1="1710.6" y1="615.5" x2="1762.0" y2="615.5" stroke="#0c0c0c" stroke-width="4" />
<text x="1711.5" y="778.5" font-size="53.3" text-anchor="end">20</text>
<line x1="1710.6" y1="758.9" x2="1762.0" y2="758.9" stroke="#0c0c0c" stroke-width="4" />
<text x="1720.0" y="1327.3" font-size="53.3" text-anchor="end">250</text>
<line x1="1724.0" y1="1309.6" x2="1773.5" y2="1309.6" stroke="#0c0c0c" stroke-width="4" />
<text x="1717.5" y="1368.3" font-size="53.3" text-anchor="end">148</text>
<line x1="1724.0" y1="1339.3" x2="1773.5" y2="1339.3" stroke="#0c0c0c" stroke-width="4" />
<text x="1725.0" y="1436.3" font-size="53.3" text-anchor="end">98</text>
<line x1="1724.0" y1="1418.2" x2="1773.5" y2="1418.2" stroke="#0c0c0c" stroke-width="4" />
<text x="1728.0" y="1500.5" font-size="53.3" text-anchor="end">64</text>
<line x1="1724.0" y1="1483.2" x2="1773.5" y2="1483.2" stroke="#0c0c0c" stroke-width="4" />
<text x="1727.5" y="1583.3" font-size="53.3" text-anchor="end">50</text>
<line x1="1724.0" y1="1561.3" x2="1773.5" y2="1561.3" stroke="#0c0c0c" stroke-width="4" />
<text x="1727.5" y="1675.6" font-size="53.3" text-anchor="end">36</text>
<line x1="1724.0" y1="1657.0" x2="1773.5" y2="1657.0" stroke="#0c0c0c" stroke-width="4" />
<text x="1732.0" y="1807.0" font-size="53.3" text-anchor="end">20</text>
<line x1="1729.0" y1="1786.7" x2="1773.5" y2="1786.7" stroke="#0c0c0c" stroke-width="4" />
<text x="2347.5" y="533.7" font-size="85.0" text-anchor="start">*</text>
<text x="2354.7" y="1570.4" font-size="85.0" text-anchor="start">*</text>
</svg></body></html>
